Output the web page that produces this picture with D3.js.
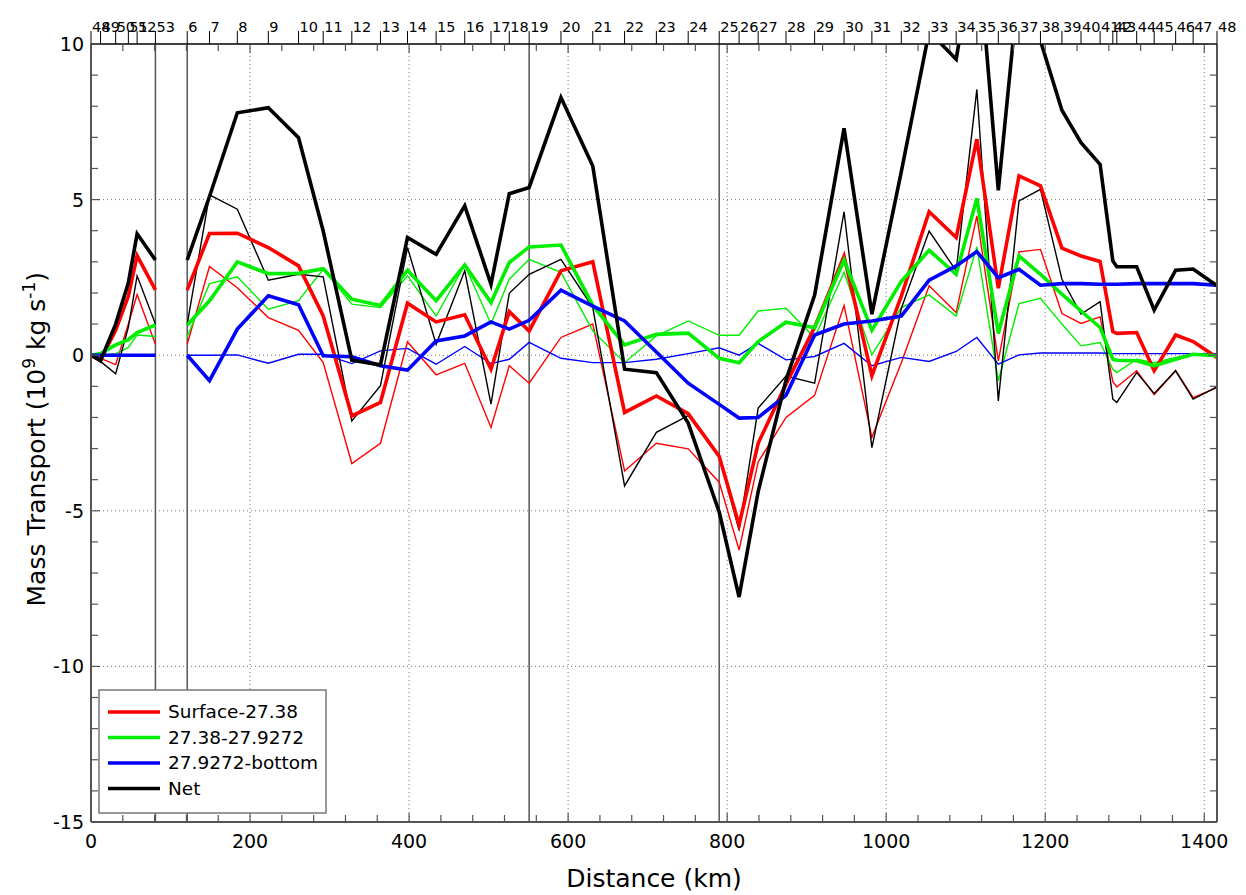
<!DOCTYPE html>
<html>
<head>
<meta charset="utf-8">
<script src="https://cdn.jsdelivr.net/npm/d3@7"></script>
<style>
  body { margin: 0; background: #fff; }
  svg { display: block; font-family: 'DejaVu Sans', Verdana, sans-serif; }
</style>
</head>
<body>
<div id="chart"></div>
<script>
// Station names along the section and their distance (km)
const stations = ['48', '49', '50', '51', '52', '53',
  '6', '7', '8', '9', '10', '11', '12', '13', '14', '15', '16', '17', '18', '19', '20',
  '21', '22', '23', '24', '25', '26', '27', '28', '29', '30', '31', '32', '33', '34', '35',
  '36', '37', '38', '39', '40', '41', '42', '43', '44', '45', '46', '47', '48'];
const distanceKm = [0, 12, 31, 47, 58, 81,
  121, 149, 184, 223, 261, 292, 328, 364, 398, 434, 470, 503, 526, 551, 591,
  631, 671, 711, 751, 790, 815, 839, 874, 910, 947, 982, 1019, 1054, 1088, 1114,
  1141, 1167, 1194, 1221, 1245, 1269, 1285, 1290, 1315, 1337, 1364, 1386, 1416];

// Lines restart at this station (no data between 53 and 6)
const breakBefore = ['6'];
// Stations marked with a full height vertical line
const markedStations = ['53', '6', '19', '25'];

// Mass transport (10^9 kg/s), thick = main series, thin = comparison series
const surfaceThick = [0, -0.15, 0.8, 1.9, 3.2, 2.1,
  2.09, 3.91, 3.92, 3.46, 2.87, 1.26, -1.95, -1.52, 1.67, 1.07, 1.3, -0.45, 1.4, 0.78, 2.71,
  3.0, -1.84, -1.31, -1.88, -3.25, -5.45, -2.83, -0.93, 0.9, 3.18, -0.66, 1.9, 4.61, 3.78, 6.94,
  2.15, 5.76, 5.44, 3.44, 3.19, 3.01, 0.76, 0.7, 0.73, -0.5, 0.65, 0.44, -0.07];
const surfaceThin = [0, -0.1, -0.3, 1.0, 1.95, 0.35,
  0.35, 2.85, 2.17, 1.21, 0.8, -0.24, -3.48, -2.83, 0.43, -0.63, -0.26, -2.32, -0.34, -0.9, 0.57,
  1.0, -3.72, -2.83, -3.01, -4.08, -6.26, -3.43, -2.0, -1.29, 1.6, -2.64, -0.24, 2.23, 1.37, 4.48,
  -0.18, 3.32, 3.4, 1.34, 1.02, 1.23, -0.85, -1.02, -0.5, -1.27, -0.5, -1.36, -1.04];
const interThick = [0, 0.05, 0.33, 0.5, 0.73, 0.97,
  0.97, 1.75, 3.0, 2.62, 2.63, 2.78, 1.8, 1.6, 2.73, 1.75, 2.9, 1.69, 2.98, 3.48, 3.54,
  1.6, 0.33, 0.67, 0.71, -0.1, -0.24, 0.44, 1.06, 0.88, 3.06, 0.8, 2.37, 3.37, 2.6, 5.04,
  0.7, 3.19, 2.6, 1.96, 1.42, 0.89, -0.13, -0.16, -0.18, -0.34, -0.13, 0.03, -0.02];
const interThin = [0, 0, 0.05, 0.25, 0.65, 0.6,
  0.59, 2.3, 2.52, 1.48, 1.75, 2.76, 1.64, 1.53, 2.55, 1.26, 2.9, 1.0, 2.44, 3.08, 2.66,
  0.78, -0.24, 0.62, 1.1, 0.64, 0.64, 1.42, 1.51, 0.56, 2.67, 0.01, 1.53, 1.94, 1.26, 3.48,
  -0.82, 1.66, 1.83, 1.0, 0.3, 0.41, -0.45, -0.56, -0.13, -0.24, -0.07, 0.03, -0.05];
const bottomThick = [0, 0, 0, 0, 0, 0,
  0, -0.82, 0.84, 1.91, 1.62, -0.02, -0.05, -0.34, -0.48, 0.46, 0.62, 1.07, 0.84, 1.12, 2.09,
  1.58, 1.1, 0.1, -0.9, -1.58, -2.02, -2.0, -1.29, 0.65, 1.0, 1.1, 1.26, 2.41, 2.87, 3.33,
  2.49, 2.76, 2.25, 2.3, 2.3, 2.28, 2.28, 2.28, 2.3, 2.3, 2.3, 2.3, 2.25];
const bottomThin = [0, 0, 0, 0, 0, 0,
  0, 0, 0.01, -0.26, 0.03, 0.03, -0.27, 0.14, 0.22, -0.29, 0.28, -0.27, -0.13, 0.41, -0.1,
  -0.24, -0.24, -0.13, 0.05, 0.24, 0, 0.38, -0.15, -0.04, 0.38, -0.34, -0.07, -0.2, 0.12, 0.57,
  -0.29, 0.01, 0.07, 0.07, 0.07, 0.07, 0.05, 0.05, 0.05, 0.05, 0.05, 0.05, 0.05];
const netThick = [0, -0.18, 1.0, 2.33, 3.9, 3.06,
  3.06, 5.1, 7.79, 7.95, 6.99, 3.99, -0.16, -0.31, 3.78, 3.24, 4.8, 2.28, 5.19, 5.39, 8.28,
  6.08, -0.45, -0.56, -2.18, -5.04, -7.77, -4.38, -0.8, 1.93, 7.29, 1.32, 5.9, 10.4, 9.51, 13.5,
  5.3, 12.0, 10.1, 7.87, 6.83, 6.13, 3.03, 2.84, 2.84, 1.45, 2.73, 2.77, 2.23];
const netThin = [0, -0.2, -0.6, 0.9, 2.55, 1.0,
  1.0, 5.15, 4.69, 2.41, 2.6, 2.52, -2.11, -0.98, 3.46, 0.35, 2.71, -1.57, 1.99, 2.6, 3.08,
  1.53, -4.2, -2.48, -1.94, -3.25, -5.63, -1.7, -0.67, -0.9, 4.61, -2.97, 1.5, 3.99, 2.71, 8.54,
  -1.47, 4.96, 5.33, 2.44, 1.32, 1.72, -1.41, -1.52, -0.56, -1.23, -0.5, -1.41, -1.02];

const legendLabels = ['Surface-27.38', '27.38-27.9272', '27.9272-bottom', 'Net'];
const seriesColors = ['#ff0000', '#00ee00', '#0000ff', '#000000'];

const xTicks = [0, 200, 400, 600, 800, 1000, 1200, 1400];
const yTicks = [10, 5, 0, -5, -10, -15];

// Layout
const width = 1246;
const height = 895;
const margin = { top: 44, right: 29, bottom: 73, left: 91 };
const plotW = width - margin.left - margin.right;
const plotH = height - margin.top - margin.bottom;

const x = d3.scaleLinear().domain([0, 1416]).range([0, plotW]);
const y = d3.scaleLinear().domain([-15, 10]).range([plotH, 0]);

const svg = d3.select('#chart').append('svg')
  .attr('width', width)
  .attr('height', height);

const g = svg.append('g')
  .attr('transform', `translate(${margin.left},${margin.top})`);

g.append('clipPath').attr('id', 'plot-clip')
  .append('rect')
  .attr('width', plotW)
  .attr('height', plotH);

// Dotted grid at major ticks
g.append('g').selectAll('line')
  .data(xTicks.filter(d => d > 0))
  .enter().append('line')
  .attr('x1', d => x(d)).attr('x2', d => x(d))
  .attr('y1', 0).attr('y2', plotH)
  .attr('stroke', '#777')
  .attr('stroke-width', 1)
  .attr('stroke-dasharray', '1,3');

g.append('g').selectAll('line')
  .data(yTicks.filter(d => d < 10 && d > -15))
  .enter().append('line')
  .attr('x1', 0).attr('x2', plotW)
  .attr('y1', d => y(d)).attr('y2', d => y(d))
  .attr('stroke', '#777')
  .attr('stroke-width', 1)
  .attr('stroke-dasharray', '1,3');

// Vertical marker lines at chosen stations
g.append('g').selectAll('line')
  .data(markedStations.map(s => distanceKm[stations.indexOf(s)]))
  .enter().append('line')
  .attr('x1', d => x(d)).attr('x2', d => x(d))
  .attr('y1', 0).attr('y2', plotH)
  .attr('stroke', '#555')
  .attr('stroke-width', 1.5);

// Split the station indices into continuous segments
const segments = [];
let current = [];
stations.forEach((s, i) => {
  if (breakBefore.includes(s) && i > 0 && current.length) {
    segments.push(current);
    current = [];
  }
  current.push(i);
});
segments.push(current);

const series = [
  { values: surfaceThin, color: seriesColors[0], w: 1.4 },
  { values: interThin, color: seriesColors[1], w: 1.4 },
  { values: bottomThin, color: seriesColors[2], w: 1.4 },
  { values: netThin, color: seriesColors[3], w: 1.4 },
  { values: surfaceThick, color: seriesColors[0], w: 3.6 },
  { values: interThick, color: seriesColors[1], w: 3.6 },
  { values: bottomThick, color: seriesColors[2], w: 3.6 },
  { values: netThick, color: seriesColors[3], w: 3.6 }
];

const lines = g.append('g').attr('clip-path', 'url(#plot-clip)');

series.forEach((s) => {
  const gen = d3.line()
    .x(i => x(distanceKm[i]))
    .y(i => y(s.values[i]));
  segments.forEach((seg) => {
    lines.append('path')
      .attr('d', gen(seg))
      .attr('fill', 'none')
      .attr('stroke', s.color)
      .attr('stroke-width', s.w)
      .attr('stroke-linejoin', 'miter');
  });
});

// Frame and ticks
const frame = '#555';
g.append('line').attr('x1', 0).attr('x2', 0).attr('y1', 0).attr('y2', plotH)
  .attr('stroke', frame).attr('stroke-width', 2);
g.append('line').attr('x1', plotW).attr('x2', plotW).attr('y1', 0).attr('y2', plotH)
  .attr('stroke', frame).attr('stroke-width', 2);
g.append('line').attr('x1', 0).attr('x2', plotW).attr('y1', plotH).attr('y2', plotH)
  .attr('stroke', frame).attr('stroke-width', 2);
g.append('line').attr('x1', 0).attr('x2', plotW).attr('y1', 0).attr('y2', 0)
  .attr('stroke', '#000').attr('stroke-width', 1.5);

const xMinor = d3.range(0, 1416, 40);
const yMinor = d3.range(-15, 11, 1);
const tickLen = 7;

g.append('g').selectAll('line')
  .data(xMinor)
  .enter().append('line')
  .attr('x1', d => x(d)).attr('x2', d => x(d))
  .attr('y1', plotH).attr('y2', d => plotH - (d % 200 === 0 ? tickLen + 2 : tickLen))
  .attr('stroke', frame).attr('stroke-width', 1.2);

g.append('g').selectAll('line')
  .data(xMinor)
  .enter().append('line')
  .attr('x1', d => x(d)).attr('x2', d => x(d))
  .attr('y1', 0).attr('y2', d => (d % 200 === 0 ? tickLen + 2 : tickLen))
  .attr('stroke', frame).attr('stroke-width', 1.2);

g.append('g').selectAll('line')
  .data(yMinor)
  .enter().append('line')
  .attr('x1', 0).attr('x2', d => (d % 5 === 0 ? tickLen + 2 : tickLen))
  .attr('y1', d => y(d)).attr('y2', d => y(d))
  .attr('stroke', frame).attr('stroke-width', 1.2);

g.append('g').selectAll('line')
  .data(yMinor)
  .enter().append('line')
  .attr('x1', plotW).attr('x2', d => plotW - (d % 5 === 0 ? tickLen + 2 : tickLen))
  .attr('y1', d => y(d)).attr('y2', d => y(d))
  .attr('stroke', frame).attr('stroke-width', 1.2);

// Tick labels
g.append('g').selectAll('text')
  .data(xTicks)
  .enter().append('text')
  .attr('x', d => x(d))
  .attr('y', plotH + 26)
  .attr('text-anchor', 'middle')
  .attr('font-size', 19)
  .text(d => d);

g.append('g').selectAll('text')
  .data(yTicks)
  .enter().append('text')
  .attr('x', -7)
  .attr('y', d => y(d) + 7)
  .attr('text-anchor', 'end')
  .attr('font-size', 19)
  .text(d => d);

// Station axis on top (labels overlap where stations are close, as in the source)
const stationAxis = g.append('g');
stationAxis.selectAll('line')
  .data(distanceKm)
  .enter().append('line')
  .attr('x1', d => x(d)).attr('x2', d => x(d))
  .attr('y1', 0).attr('y2', -13)
  .attr('stroke', '#000').attr('stroke-width', 1);

stationAxis.selectAll('text')
  .data(stations)
  .enter().append('text')
  .attr('x', (d, i) => x(distanceKm[i]) + 1)
  .attr('y', -12)
  .attr('font-size', 14.5)
  .text(d => d);

// Axis titles
svg.append('text')
  .attr('x', margin.left + x(708))
  .attr('y', 887)
  .attr('text-anchor', 'middle')
  .attr('font-size', 25)
  .text('Distance (km)');

const yTitle = svg.append('text')
  .attr('transform', `translate(45,${margin.top + y(-2.7)}) rotate(-90)`)
  .attr('text-anchor', 'middle')
  .attr('font-size', 25);
yTitle.append('tspan').text('Mass Transport (10');
yTitle.append('tspan').attr('font-size', 17).attr('dy', -10).text('9');
yTitle.append('tspan').attr('dy', 10).text(' kg s');
yTitle.append('tspan').attr('font-size', 17).attr('dy', -10).text('-1');
yTitle.append('tspan').attr('dy', 10).text(')');

// Legend
const legend = svg.append('g').attr('transform', 'translate(99,690)');
legend.append('rect')
  .attr('width', 227)
  .attr('height', 123)
  .attr('fill', '#fff')
  .attr('stroke', '#777')
  .attr('stroke-width', 1.5);

const item = legend.selectAll('g.item')
  .data(legendLabels)
  .enter().append('g')
  .attr('class', 'item')
  .attr('transform', (d, i) => `translate(0,${22 + i * 25.5})`);

item.append('line')
  .attr('x1', 9).attr('x2', 61)
  .attr('stroke', (d, i) => seriesColors[i])
  .attr('stroke-width', 3.6);

item.append('text')
  .attr('x', 69)
  .attr('y', 6)
  .attr('font-size', 18.5)
  .text(d => d);
</script>
</body>
</html>
